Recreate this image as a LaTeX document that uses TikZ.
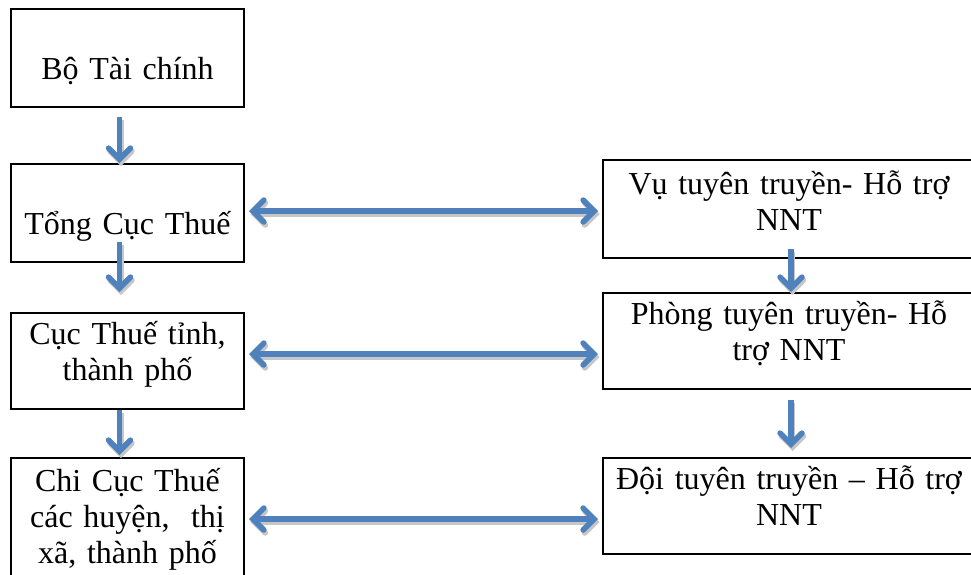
\documentclass[tikz,border=0pt]{standalone}
\usepackage{fontspec}
\setmainfont{Liberation Serif}
\usetikzlibrary{arrows.meta}
\definecolor{arrowblue}{RGB}{79,129,189}
\begin{document}
\begin{tikzpicture}[x=1pt,y=-1pt,
	box/.style={draw,line width=2pt,anchor=north west,inner sep=0pt,align=center,
		font=\fontsize{32}{36}\selectfont},
	barb/.tip={Straight Barb[length=11pt,width=22pt,line cap=round]},
	arr/.style={draw=arrowblue,line width=5.5pt,-barb,
		preaction={draw=black!22,line width=5.5pt,transform canvas={xshift=1.5pt,yshift=-3pt}}},
	darr/.style={arr,barb-barb}]
\useasboundingbox (0,0) rectangle (971,574);
\clip (0,0) rectangle (971,574);
% left column
\node[box,text width=233pt,text height=70pt,text depth=28pt] (mof) at (10,8) {Bộ Tài chính};
\node[box,text width=233pt,text height=70pt,text depth=28pt] (gdt) at (10,163) {Tổng Cục Thuế};
\node[box,text width=233pt,text height=31pt,text depth=65pt] (pdt) at (10,312) {Cục Thuế tỉnh,\\ thành phố};
\node[box,text width=233pt,text height=33pt,text depth=89pt] (ddt) at (10,457) {Chi Cục Thuế\\ các huyện,~ thị\\ xã, thành phố};
% right column
\node[box,text width=372pt,text height=34pt,text depth=64pt] (dept) at (602,159) {Vụ tuyên truyền- Hỗ trợ\\ NNT};
\node[box,text width=372pt,text height=31pt,text depth=65pt] (office) at (602,292) {Phòng tuyên truyền- Hỗ\\ trợ NNT};
\node[box,text width=372pt,text height=31pt,text depth=65pt] (team) at (602,457) {Đội tuyên truyền – Hỗ trợ\\ NNT};
% arrows
\draw[arr] ([shift={(-8pt,-9pt)}]mof.south) -- ([xshift=-8pt]gdt.north);
\draw[arr] ([shift={(-8pt,21pt)}]gdt.south) -- ([shift={(-8pt,20pt)}]pdt.north);
\draw[arr] ([xshift=-8pt]pdt.south) -- ([shift={(-8pt,2pt)}]ddt.north);
\draw[arr] ([shift={(2pt,10pt)}]dept.south) -- ([xshift=2pt]office.north);
\draw[arr] ([shift={(2pt,-10pt)}]office.south) -- ([shift={(2pt,9pt)}]team.north);
\draw[darr] ([shift={(4pt,2pt)}]gdt.east) -- ([shift={(-4pt,2pt)}]gdt.east -| dept.west);
\draw[darr] ([shift={(4pt,7pt)}]pdt.east) -- ([shift={(-4pt,7pt)}]pdt.east -| office.west);
\draw[darr] ([xshift=4pt]ddt.east) -- ([xshift=-4pt]ddt.east -| team.west);
\end{tikzpicture}
\end{document}
